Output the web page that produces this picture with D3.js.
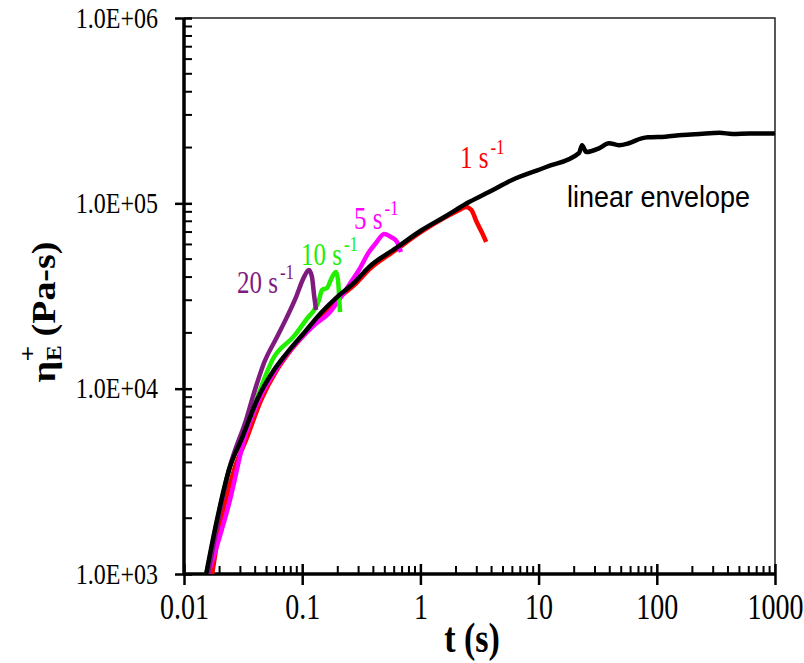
<!DOCTYPE html>
<html><head><meta charset="utf-8">
<script src="https://cdn.jsdelivr.net/npm/d3@7"></script>
<style>body{margin:0;background:#fff}svg{display:block}</style>
</head><body>
<svg id="c" width="804" height="663"></svg>
<script>
// ---- data: [t (s), eta_E+ (Pa-s)] ----
const envelope = [[0.0154,1000],[0.019,1955],[0.024,3640],[0.031,5420],[0.0355,6780],[0.0415,8690],[0.0577,12600],[0.0744,15600],[0.1035,19970],[0.144,25600],[0.197,31200],[0.274,37200],[0.367,45300],[0.622,57400],[1.03,71800],[1.65,85500],[2.58,101600],[3.8,115100],[5.96,133600],[11.6,157000],[22.0,187000],[23.3,206000],[25.3,189000],[32.4,198000],[39.4,211000],[47.8,206000],[57.9,211000],[74.4,224000],[84.4,227000],[118,229000],[164,234000],[231,237000],[340,240000],[437,237000],[608,238000],[946,238000],[1000,239000]];
const rate1 = [[0.0173,1000],[0.0206,1950],[0.0265,3640],[0.034,5420],[0.045,8700],[0.061,12600],[0.077,15600],[0.107,19900],[0.15,25000],[0.2,30500],[0.28,36500],[0.37,44000],[0.62,56000],[1.03,70500],[1.65,84500],[2.2,93000],[2.43,95600],[2.7,92000],[3.0,79000],[3.3,70000],[3.6,62000]];
const rate5 = [[0.016,1000],[0.0245,2510],[0.0322,5290],[0.0431,8690],[0.0637,13400],[0.094,18300],[0.126,22000],[0.169,25600],[0.205,30100],[0.249,36300],[0.302,43700],[0.367,54600],[0.421,61100],[0.493,68400],[0.564,65800],[0.634,61900],[0.684,54600]];
const rate10 = [[0.0155,1000],[0.024,3640],[0.0355,6780],[0.0577,14800],[0.0853,19200],[0.1077,23500],[0.1387,30100],[0.147,34100],[0.162,34900],[0.179,40000],[0.193,42600],[0.201,38600],[0.205,32000],[0.209,25900]];
const rate20 = [[0.016,1000],[0.024,3640],[0.0341,7030],[0.0391,9480],[0.0475,13760],[0.0612,19000],[0.0744,24400],[0.0887,31200],[0.1035,40000],[0.114,43700],[0.121,40000],[0.126,32000],[0.131,26600]];
const xTicks = [0.01,0.1,1,10,100,1000];
const xTickLabels = ["0.01","0.1","1","10","100","1000"];
const yTicks = [1e3,1e4,1e5,1e6];
const yTickLabels = ["1.0E+03","1.0E+04","1.0E+05","1.0E+06"];

const svg = d3.select("#c");
const L=184, R=775, T=18, B=574;
const SY = 1.25; // vertical stretch of the lettering in the reference
const serif = "Liberation Serif, Times New Roman, serif";
const x = d3.scaleLog().domain([0.01,1000]).range([L,R]);
const y = d3.scaleLog().domain([1e3,1e6]).range([B,T]);

// frame (top/right thin)
svg.append("path").attr("d",`M${L},${T}H${R}V${B}`).attr("fill","none").attr("stroke","#222").attr("stroke-width",1.5);

// minor ticks
const minorX=[], minorY=[];
for(let d=0.01; d<1000; d*=10) for(let k=2;k<=9;k++) minorX.push(d*k);
for(let d=1e3; d<1e6; d*=10) for(let k=2;k<=9;k++) minorY.push(d*k);

const xAxis = d3.axisBottom(x).tickValues(xTicks).tickFormat((d,i)=>xTickLabels[i]).tickSize(10);
const gx = svg.append("g").attr("transform",`translate(0,${B})`).call(xAxis);
gx.select(".domain").remove();
gx.selectAll(".tick line").attr("y1",-10).attr("y2",11).attr("stroke","#000").attr("stroke-width",2.5);
gx.selectAll(".tick text").attr("font-family",serif).attr("font-size",28).attr("fill","#000")
  .attr("y",0).attr("dy",null).attr("transform",`translate(0,45) scale(1,${SY})`);
gx.selectAll(".minor").data(minorX).enter().append("line").attr("x1",d=>x(d)).attr("x2",d=>x(d)).attr("y1",0).attr("y2",-8).attr("stroke","#000").attr("stroke-width",2);

const yAxis = d3.axisLeft(y).tickValues(yTicks).tickFormat((d,i)=>yTickLabels[i]).tickSize(8);
const gy = svg.append("g").attr("transform",`translate(${L},0)`).call(yAxis);
gy.select(".domain").remove();
gy.selectAll(".tick line").attr("x1",-9).attr("x2",8).attr("stroke","#000").attr("stroke-width",2.5);
gy.selectAll(".tick text").attr("font-family",serif).attr("font-size",24).attr("fill","#000")
  .attr("x",0).attr("dy",null).attr("transform",`translate(-26,9) scale(1,${SY})`);
gy.selectAll(".minor").data(minorY).enter().append("line").attr("y1",d=>y(d)).attr("y2",d=>y(d)).attr("x1",0).attr("x2",8).attr("stroke","#000").attr("stroke-width",2);

// axis lines thick
svg.append("line").attr("x1",L).attr("x2",L).attr("y1",T).attr("y2",B+1).attr("stroke","#000").attr("stroke-width",3.5);
svg.append("line").attr("x1",L-1).attr("x2",R+1).attr("y1",B).attr("y2",B).attr("stroke","#000").attr("stroke-width",3.5);

// curves
const line = d3.line().x(d=>x(d[0])).y(d=>y(d[1])).curve(d3.curveMonotoneX);
svg.append("clipPath").attr("id","pc").append("rect").attr("x",L).attr("y",T).attr("width",R-L).attr("height",B-T);
const series = [[rate1,"#ff0000"],[rate5,"#ff00ff"],[rate10,"#22ee00"],[rate20,"#7f1a7f"],[envelope,"#000000"]];
series.forEach(([data,col])=>{
  svg.append("path").datum(data).attr("d",line).attr("fill","none").attr("stroke",col).attr("stroke-width",4.5).attr("stroke-linejoin","round").attr("clip-path","url(#pc)");
});

// rate labels
function rateLabel(txt,px,py,col){
  const g = svg.append("g").attr("transform",`translate(${px},${py}) scale(1,${SY})`);
  const t = g.append("text").attr("fill",col).attr("font-family",serif).attr("font-size",25);
  t.append("tspan").text(txt+" s");
  t.append("tspan").attr("dx",2).attr("dy",-11).attr("font-size",17).text("-1");
}
rateLabel("20",237,293,"#7f1a7f");
rateLabel("10",301,265,"#22ee00");
rateLabel("5",354,229,"#ff00ff");
rateLabel("1",460,168,"#ff0000");

svg.append("text").attr("transform",`translate(567,207) scale(1,1.12)`).attr("font-family","Liberation Sans, Arial, sans-serif").attr("font-size",27).attr("fill","#000").text("linear envelope");

// axis titles
svg.append("text").attr("transform",`translate(472,652) scale(1,${SY})`).attr("text-anchor","middle").attr("font-family",serif).attr("font-weight","bold").attr("font-size",34).text("t (s)");

const yt = svg.append("text").attr("transform",`translate(55,312) scale(1,1.15) rotate(-90)`).attr("text-anchor","middle").attr("font-family",serif).attr("font-weight","bold").attr("font-size",33);
yt.append("tspan").text("\u03B7");
yt.append("tspan").attr("font-size",20).attr("dy",6).text("E");
yt.append("tspan").attr("font-size",24).attr("dx",-14).attr("dy",-26).text("+");
yt.append("tspan").attr("dy",20).text(" (Pa-s)");
</script>
</body></html>
